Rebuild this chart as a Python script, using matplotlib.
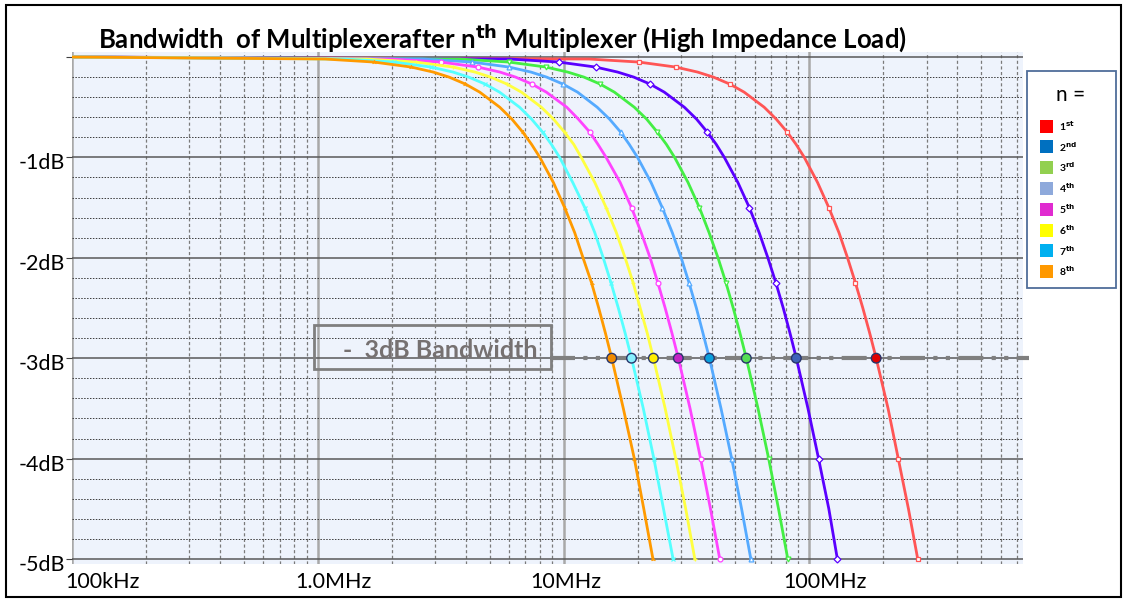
"""
plot.py - bandwidth of cascaded multiplexers (high impedance load)
"""

import matplotlib
matplotlib.use('Agg')
import matplotlib.pyplot as plt
import matplotlib.transforms as mtransforms
from matplotlib.patches import Rectangle

plt.rcParams['font.family'] = ['Lato', 'DejaVu Sans']

# attenuation levels and the frequency (MHz) where each curve reaches them
gain_db = [0, -0.02, -0.05, -0.1, -0.15, -0.2, -0.27, -0.35, -0.5, -0.62, -0.75, -0.87, -1,
           -1.25, -1.5, -1.75, -2, -2.25, -2.5, -2.75, -3, -3.5, -4, -4.5, -5]
freq_n1 = [0.1, 12.7, 20.2, 28.6, 35.1, 40.7, 47.5, 54.3, 65.5, 73.4, 81.4, 88.3, 95.4,
           108, 120, 132, 143, 154, 165, 176, 187, 209, 230, 253, 276]
freq_n2 = [0.1, 6.03, 9.55, 13.5, 16.6, 19.3, 22.5, 25.7, 31.0, 34.8, 38.5, 41.8, 45.1,
           51.2, 57.0, 62.5, 67.8, 73.1, 78.3, 83.4, 88.5, 98.7, 109, 120, 130]
freq_n3 = [0.1, 3.77, 5.98, 8.48, 10.4, 12.1, 14.1, 16.1, 19.4, 21.8, 24.1, 26.2, 28.3,
           32.1, 35.7, 39.1, 42.5, 45.8, 49.0, 52.2, 55.4, 61.8, 68.3, 74.9, 81.7]
freq_n4 = [0.1, 2.67, 4.23, 6.00, 7.37, 8.53, 9.95, 11.4, 13.7, 15.4, 17.1, 18.5, 20.0,
           22.7, 25.2, 27.7, 30.1, 32.4, 34.7, 36.9, 39.2, 43.7, 48.3, 53.0, 57.8]
freq_n5 = [0.1, 2.00, 3.16, 4.48, 5.51, 6.38, 7.44, 8.51, 10.3, 11.5, 12.8, 13.8, 14.9,
           17.0, 18.9, 20.7, 22.5, 24.2, 25.9, 27.6, 29.3, 32.7, 36.1, 39.6, 43.2]
freq_n6 = [0.1, 1.58, 2.50, 3.55, 4.36, 5.05, 5.89, 6.74, 8.12, 9.11, 10.1, 11.0, 11.8,
           13.4, 14.9, 16.4, 17.8, 19.2, 20.5, 21.9, 23.2, 25.9, 28.6, 31.4, 34.2]
freq_n7 = [0.1, 1.29, 2.04, 2.89, 3.55, 4.11, 4.80, 5.49, 6.62, 7.42, 8.23, 8.92, 9.64,
           10.9, 12.2, 13.4, 14.5, 15.6, 16.7, 17.8, 18.9, 21.1, 23.3, 25.5, 27.9]
freq_n8 = [0.1, 1.07, 1.69, 2.40, 2.95, 3.42, 3.99, 4.56, 5.50, 6.17, 6.83, 7.41, 8.01,
           9.09, 10.1, 11.1, 12.0, 13.0, 13.9, 14.8, 15.7, 17.5, 19.4, 21.2, 23.1]
curves = [freq_n1, freq_n2, freq_n3, freq_n4, freq_n5, freq_n6, freq_n7, freq_n8]

# -3dB bandwidth of each stage (MHz)
bw3_mhz = [187, 88.5, 55.4, 39.2, 29.3, 23.2, 18.9, 15.7]

stage_labels = ['1', '2', '3', '4', '5', '6', '7', '8']
stage_suffix = ['st', 'nd', 'rd', 'th', 'th', 'th', 'th', 'th']

x_ticks_hz = [1e5, 1e6, 1e7, 1e8]
x_tick_labels = ['100kHz', '1.0MHz', '10MHz', '100MHz']
y_ticks = [-5, -4, -3, -2, -1, 0]
y_tick_labels = ['-5dB', '-4dB', '-3dB', '-2dB', '-1dB', '']

line_colors = ['#FF5555', '#5A00FF', '#44EE44', '#55AAFF', '#FF44FF', '#FFFF40', '#55FFFF', '#FF9A00']
dot_colors = ['#E00000', '#3F63B8', '#55DD55', '#0AA0DD', '#C424C4', '#FFEE00', '#88F0FF', '#F08A00']
legend_colors = ['#FF0000', '#0070C0', '#92D050', '#8EA9DB', '#E02BD0', '#FFFF00', '#00B0F0', '#FF9900']
markers = ['s', 'D', 'v', '^', 'o', '+', 'x', '2']

W, H = 1124, 600
fig = plt.figure(figsize=(W / 100, H / 100), dpi=100)
ax = fig.add_axes([72 / W, 36 / H, 951 / W, 512 / H])
ax.set_facecolor('#EEF3FC')
ax.set_xscale('log')
ax.set_xlim(1e5, 7.4e8)
ax.set_ylim(-5.05, 0.05)
for spine in ax.spines.values():
    spine.set_visible(False)

# grid
minor_x = [m * d for d in [1e5, 1e6, 1e7, 1e8] for m in range(2, 10) if m * d < 7.4e8]
ax.set_xticks(x_ticks_hz)
ax.set_xticklabels(x_tick_labels, fontsize=15.5)
ax.set_xticks(minor_x, minor=True)
ax.set_xticklabels([], minor=True)
ax.set_yticks(y_ticks)
ax.set_yticklabels(y_tick_labels, fontsize=15.5)
ax.set_yticks([v / 10 for v in range(-48, 0, 2) if v % 10 != 0], minor=True)
ax.tick_params(axis='x', which='both', length=0, pad=6)
ax.tick_params(axis='y', which='major', length=4, color='#404040', pad=1)
ax.tick_params(axis='y', which='minor', length=0)
ax.grid(which='major', axis='x', color='#A8A8A8', lw=1.8, ls='-')
ax.grid(which='minor', axis='x', color='#7A7A7A', lw=0.9, ls=(0, (2.5, 2)))
ax.grid(which='major', axis='y', color='#595959', lw=1.1, ls='-')
ax.grid(which='minor', axis='y', color='#3A3A3A', lw=0.7, ls=(0, (1.5, 1.5)))
ax.set_axisbelow(True)

# x tick labels sit a little right of their grid lines in the original
label_dx = [31, 16, 2, 16]
for lab, dx in zip(ax.get_xticklabels(), label_dx):
    lab.set_transform(lab.get_transform() + mtransforms.ScaledTranslation(dx / 100, 0, fig.dpi_scale_trans))
for lab in ax.get_yticklabels():
    lab.set_transform(lab.get_transform() + mtransforms.ScaledTranslation(0, -4 / 100, fig.dpi_scale_trans))

# -3dB reference line
ax.plot([8.8e6, 7.85e8], [-3, -3], color='#7F7F7F', lw=3, ls=(0, (6, 2, 1, 2, 1, 2)),
        solid_capstyle='butt', clip_on=False, zorder=2)

for freqs, color, mk in zip(curves, line_colors, markers):
    ax.plot([f * 1e6 for f in freqs], gain_db, color=color, lw=2.0, zorder=3,
            marker=mk, markersize=3.5, markerfacecolor='white', markeredgecolor=color,
            markeredgewidth=0.9, markevery=[2, 3, 6, 10, 14, 17, 22, 24])

ax.scatter([b * 1e6 for b in bw3_mhz], [-3] * len(bw3_mhz), s=48, c=dot_colors,
           edgecolors='#27356B', linewidths=1.0, zorder=6)

# "-3dB Bandwidth" box
fig.patches.append(Rectangle((314 / W, (H - 369) / H), 237 / W, 44 / H, transform=fig.transFigure,
                             fill=False, edgecolor='#7F7F7F', lw=2))
fig.text(343 / W, (H - 351) / H, '-  3dB Bandwidth', fontsize=18, fontweight='bold',
         color='#767171', ha='left', va='center')

# title
fig.text(502 / W, (H - 38) / H, 'Bandwidth  of Multiplexerafter n$^{\\mathbf{th}}$ Multiplexer (High Impedance Load)',
         fontsize=18.5, fontweight='bold', ha='center', va='center')

# legend
fig.patches.append(Rectangle((1027 / W, (H - 288) / H), 89 / W, 217 / H, transform=fig.transFigure,
                             facecolor='white', edgecolor='#4F6D9A', lw=1.3))
fig.text(1071 / W, (H - 95) / H, 'n =', fontsize=15, ha='center', va='center')
for i, (num, suf, color) in enumerate(zip(stage_labels, stage_suffix, legend_colors)):
    yc = 126 + i * 20.8
    fig.patches.append(Rectangle((1040 / W, (H - yc - 6.5) / H), 13 / W, 13 / H,
                                 transform=fig.transFigure, facecolor=color, edgecolor='none'))
    fig.text(1059 / W, (H - yc) / H, num + '$^{\\mathbf{' + suf + '}}$', fontsize=7.5,
             fontweight='bold', ha='left', va='center')

# outer frame
fig.patches.append(Rectangle((6 / W, 3 / H), 1115 / W, 592 / H, transform=fig.transFigure,
                             fill=False, edgecolor='black', lw=1.5))

fig.savefig('out.png', dpi=100)
